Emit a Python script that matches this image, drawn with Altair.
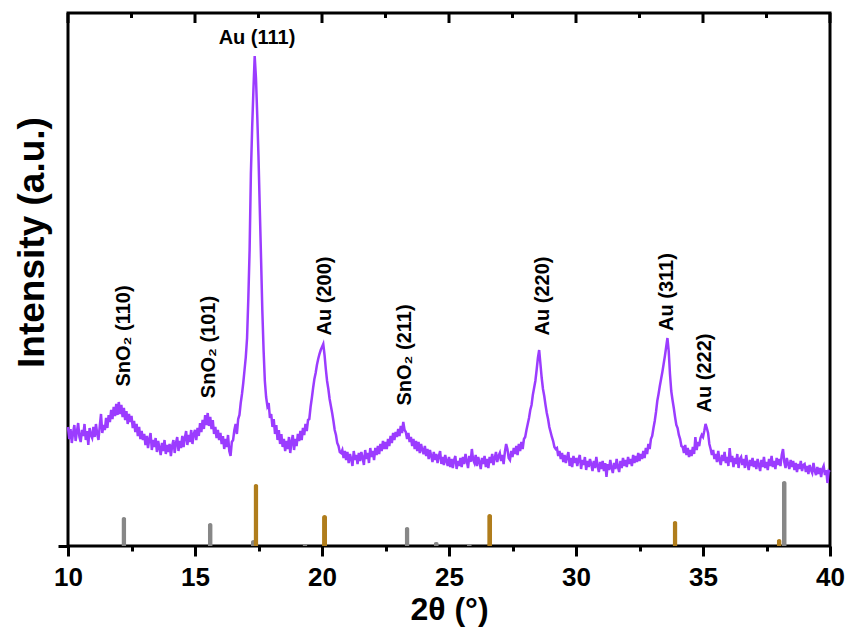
import altair as alt
import pandas as pd

# ---------------- data ----------------
two_theta_start = 10.0
two_theta_step = 0.05
intensity = [
    119, 107, 117, 103, 113, 121, 105, 114, 123, 109,
    104, 116, 110, 122, 106, 115, 101, 118, 111, 108,
    119, 109, 122, 112, 106, 120, 132, 113, 121, 116,
    128, 118, 131, 124, 136, 127, 139, 130, 142, 131,
    144, 132, 141, 129, 138, 126, 135, 122, 132, 124,
    130, 118, 125, 114, 122, 110, 119, 107, 115, 106,
    112, 101, 110, 98, 107, 113, 96, 106, 99, 108,
    94, 105, 98, 91, 103, 95, 106, 92, 101, 94,
    102, 90, 100, 106, 93, 103, 109, 95, 105, 98,
    110, 99, 108, 115, 101, 111, 104, 116, 102, 112,
    116, 106, 118, 110, 123, 114, 126, 117, 131, 121,
    133, 120, 129, 117, 126, 112, 119, 108, 116, 106,
    113, 102, 110, 97, 107, 99, 111, 95, 90, 104,
    106, 116, 122, 112, 127, 131, 143, 152, 163, 176,
    189, 208, 248, 296, 372, 418, 456, 490, 468, 431,
    389, 338, 288, 236, 196, 165, 149, 140, 143, 128,
    132, 119, 127, 112, 121, 106, 116, 102, 112, 99,
    107, 95, 105, 97, 109, 93, 104, 111, 96, 107,
    100, 112, 105, 115, 106, 118, 111, 122, 115, 126,
    127, 139, 148, 158, 167, 173, 181, 187, 192, 196,
    199, 202, 191, 177, 165, 157, 147, 140, 133, 125,
    116, 111, 103, 100, 94, 93, 96, 88, 95, 86,
    94, 83, 92, 87, 80, 95, 86, 91, 82, 93,
    85, 94, 88, 81, 96, 87, 93, 83, 98, 89,
    95, 86, 98, 91, 100, 92, 102, 95, 105, 97,
    104, 97, 107, 100, 110, 103, 113, 106, 114, 109,
    117, 110, 120, 113, 124, 116, 114, 107, 113, 104,
    109, 100, 107, 97, 105, 95, 104, 93, 102, 96,
    92, 100, 90, 97, 87, 96, 90, 84, 94, 86,
    92, 83, 90, 95, 82, 89, 81, 91, 85, 80,
    89, 79, 87, 78, 86, 90, 77, 85, 80, 88,
    79, 89, 82, 92, 85, 78, 90, 84, 97, 86,
    83, 91, 80, 89, 84, 77, 88, 82, 90, 79,
    87, 78, 89, 83, 92, 81, 88, 94, 84, 90,
    93, 85, 91, 82, 94, 102, 97, 88, 86, 95,
    89, 98, 92, 100, 91, 102, 95, 104, 97, 107,
    109, 116, 122, 128, 136, 141, 151, 158, 165, 176,
    188, 196, 182, 168, 157, 150, 141, 133, 127, 119,
    114, 109, 105, 99, 97, 98, 90, 95, 87, 93,
    84, 91, 83, 89, 94, 80, 88, 79, 90, 83,
    88, 80, 87, 91, 77, 86, 81, 89, 76, 85,
    79, 87, 82, 75, 85, 78, 89, 80, 74, 84,
    77, 85, 75, 83, 69, 82, 76, 86, 78, 73,
    83, 77, 87, 79, 74, 85, 78, 88, 80, 86,
    79, 89, 82, 87, 80, 91, 83, 90, 84, 93,
    85, 92, 87, 95, 88, 98, 92, 102, 97, 107,
    110, 118, 125, 134, 145, 152, 160, 167, 174, 182,
    190, 199, 208, 195, 172, 155, 146, 138, 129, 121,
    118, 111, 107, 100, 99, 93, 101, 91, 98, 89,
    96, 90, 99, 92, 109, 96, 104, 100, 108, 111,
    109, 115, 122, 118, 113, 102, 97, 91, 96, 87,
    92, 84, 95, 86, 81, 91, 85, 94, 83, 89,
    80, 98, 84, 90, 79, 88, 82, 92, 78, 87,
    89, 81, 87, 78, 91, 82, 76, 86, 80, 88,
    79, 85, 77, 87, 81, 75, 86, 79, 89, 78,
    84, 76, 87, 80, 90, 79, 85, 77, 88, 81,
    87, 80, 91, 97, 84, 78, 88, 82, 77, 86,
    79, 85, 76, 83, 74, 82, 77, 85, 75, 81,
    82, 74, 80, 72, 81, 76, 73, 83, 75, 71,
    79, 72, 78, 69, 77, 80, 71, 76, 63, 75,
    74,
]
two_theta = [round(two_theta_start + i * two_theta_step, 2) for i in range(len(intensity))]

# reference stick patterns
sno2_pos = [12.2, 15.6, 17.3, 19.33, 23.35, 24.5, 25.8, 38.2]
sno2_int = [29, 23, 6, 2, 19, 4, 2, 65]
au_pos = [17.4, 20.1, 26.6, 33.9, 38.0]
au_int = [62, 31, 32, 25, 7]

# peak annotations
rot_labels = ["SnO₂ (110)", "SnO₂ (101)", "Au (200)", "SnO₂ (211)", "Au (220)", "Au (311)", "Au (222)"]
rot_label_x = [12.20, 15.55, 20.12, 23.27, 28.70, 33.58, 35.08]
rot_label_y = [210, 199, 250, 191, 250, 254, 173]
top_label = ["Au (111)"]
top_label_x = [17.44]
top_label_y = [508]

major_ticks = [10, 15, 20, 25, 30, 35, 40]
minor_ticks = [12.5, 17.5, 22.5, 27.5, 32.5, 37.5]
all_ticks = sorted(major_ticks + minor_ticks)

# ---------------- tables (common field names x / y) ----------------
df_line = pd.DataFrame({"x": two_theta, "y": intensity})
df_sticks = pd.DataFrame({
    "x": sno2_pos + au_pos,
    "y": sno2_int + au_int,
    "phase": ["SnO2"] * len(sno2_pos) + ["Au"] * len(au_pos),
})
df_rot = pd.DataFrame({"label": rot_labels, "x": rot_label_x, "y": rot_label_y})
df_top = pd.DataFrame({"label": top_label, "x": top_label_x, "y": top_label_y})
df_major = pd.DataFrame({"x": major_ticks})
df_minor = pd.DataFrame({"x": minor_ticks})

FONT = "Liberation Sans"
PURPLE = "#9b3cff"
GOLD = "#b07d1c"
GREY = "#878787"

xscale = alt.Scale(domain=[10, 40], nice=False, zero=False, padding=0)
yscale = alt.Scale(domain=[0, 533], nice=False, zero=True, padding=0)

x_axis = alt.Axis(
    values=all_ticks, format="d",
    labelExpr="datum.value % 5 === 0 ? datum.label : ''",
    tickSize={"condition": {"test": "datum.value % 5 === 0", "value": 10}, "value": 5},
    tickWidth=3, tickColor="black", domain=False, grid=False,
    labelFont=FONT, labelFontSize=26, labelFontWeight="bold", labelColor="black",
    labelPadding=8, labelFlush=False,
    title="2θ (°)", titleFont=FONT, titleFontSize=32, titleFontWeight="bold",
    titleColor="black", titlePadding=4,
)
y_axis = alt.Axis(
    values=[0], labels=False, tickSize=10, tickWidth=3, tickColor="black",
    domain=False, grid=False,
    title="Intensity (a.u.)", titleFont=FONT, titleFontSize=37, titleFontWeight="bold",
    titleColor="black", titleX=-36, titleY=229, titleAngle=270,
    titleAlign="center", titleBaseline="middle",
)

X = alt.X("x:Q", scale=xscale)
Y = alt.Y("y:Q", scale=yscale)

line = alt.Chart(df_line).mark_line(color=PURPLE, strokeWidth=2.5).encode(
    x=alt.X("x:Q", scale=xscale, axis=x_axis),
    y=alt.Y("y:Q", scale=yscale, axis=y_axis),
)

sticks = alt.Chart(df_sticks).mark_bar(orient="vertical", size=5, cornerRadiusEnd=2.5).encode(
    x=X, y=Y,
    color=alt.Color("phase:N", scale=alt.Scale(domain=["SnO2", "Au"], range=[GREY, GOLD]), legend=None),
)

top_major = alt.Chart(df_major).mark_rule(color="black", strokeWidth=3).encode(
    x=X, y=alt.value(0), y2=alt.value(10),
)
top_minor = alt.Chart(df_minor).mark_rule(color="black", strokeWidth=3).encode(
    x=X, y=alt.value(0), y2=alt.value(5),
)

rot_text = alt.Chart(df_rot).mark_text(
    angle=270, font=FONT, fontSize=20, fontWeight="bold", color="black",
    align="center", baseline="middle",
).encode(x=X, y=Y, text="label:N")
top_text = alt.Chart(df_top).mark_text(
    font=FONT, fontSize=20, fontWeight="bold", color="black",
    align="center", baseline="middle",
).encode(x=X, y=Y, text="label:N")

chart = alt.layer(sticks, line, top_major, top_minor, rot_text, top_text).properties(
    width=762, height=533,
    autosize=alt.AutoSizeParams(type="none"),
    padding={"left": 68, "top": 13, "right": 17, "bottom": 88},
    background="white",
).configure_view(stroke="black", strokeWidth=3)

chart.save("out.html", embed_options={"renderer": "svg", "actions": False})
